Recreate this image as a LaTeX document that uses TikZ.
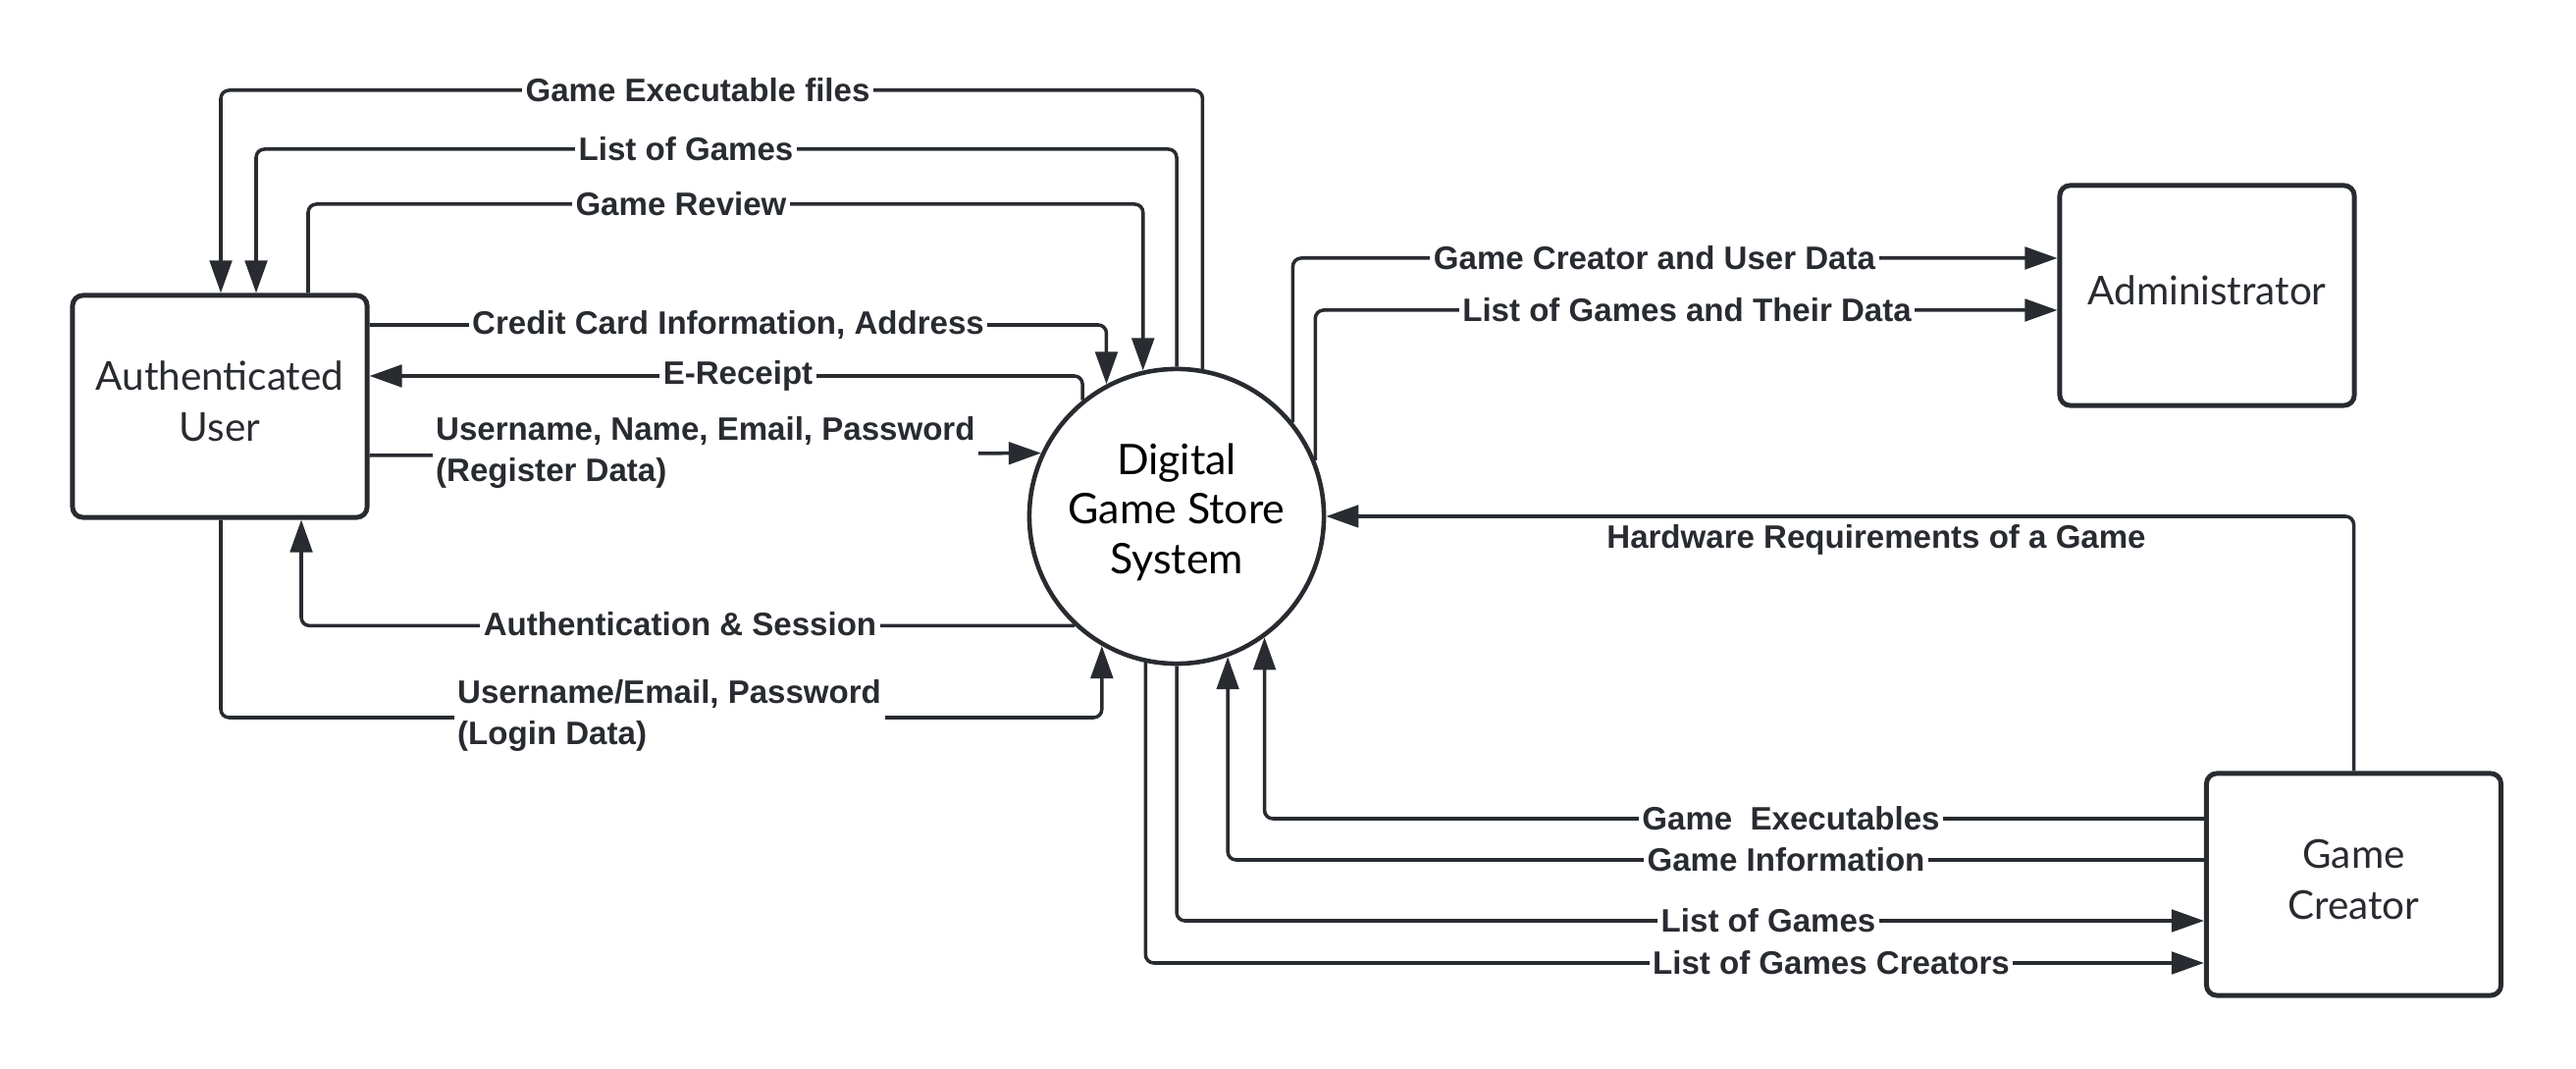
\documentclass[tikz,border=0pt]{standalone}
\usepackage{fontspec}
\setmainfont{Lato}
\newfontfamily\labfont{Liberation Sans}
\usetikzlibrary{arrows.meta}
\definecolor{ink}{RGB}{40,43,48}
\begin{document}
\begin{tikzpicture}[x=0.01cm,y=-0.01cm,
  ent/.style={draw=ink,line width=1.4pt,rounded corners=3pt,minimum width=3cm,minimum height=2.26cm,align=center,text=ink,text depth=3pt,font=\fontsize{11.5}{15}\selectfont},
  proc/.style={draw=ink,line width=1.3pt,circle,minimum size=3cm,inner sep=0pt,align=center,text=black,text depth=4.5pt,font=\fontsize{12.2}{14.3}\selectfont},
  flow/.style={draw=ink,line width=1pt,rounded corners=2.4pt,-{Triangle[length=9.4pt,width=6.4pt]}},
  lab/.style={fill=white,text=ink,font=\labfont\bfseries\fontsize{9.4}{11.8}\selectfont,inner xsep=1pt,inner ysep=0.5pt},
]
\useasboundingbox (0,0) rectangle (2625,1089);

% entities
\node[ent] (user) at (224,414) {Authenticated\\User};
\node[ent,minimum height=2.24cm] (admin) at (2249,301) {Administrator};
\node[ent] (creator) at (2398.5,901) {Game\\Creator};
\node[proc] (sys) at (1199,526) {Digital\\Game Store\\System};

% flows between user and system
\draw[flow] (sys.80.4) |- (225,92) -- (user.north -| 225,0);
\draw[flow] (sys.90) |- (261,152) -- (user.north -| 261,0);
\draw[flow] (user.north -| 314,0) |- (sys.103.9 |- 0,208) -- (sys.103.9);
\draw[flow] (user.east |- 0,331) -| (sys.118.3);
\draw[flow] (sys.129.3) |- (user.east |- 0,383);
\draw[flow] (user.east |- 0,464) -- (sys.155.6);
\draw[flow] (sys.227.2) -| (user.south -| 307,0);
\draw[flow] (user.south -| 225,0) |- (sys.240.5 |- 0,731) -- (sys.240.5);

% flows to administrator
\draw[flow] (sys.39.9) |- (admin.west |- 0,263);
\draw[flow] (sys.22) |- (admin.west |- 0,316);

% flows with game creator
\draw[flow] (creator.north) |- (sys.0);
\draw[flow] (creator.west |- 0,834) -| (sys.306.4);
\draw[flow] (creator.west |- 0,876) -| (sys.290.3);
\draw[flow] (sys.270) |- (creator.west |- 0,938);
\draw[flow] (sys.258) |- (creator.west |- 0,981);

% labels
\node[lab] (l1) at (711,92) {Game Executable files};
\node[lab] (l2) at (699,152) {List of Games};
\node[lab] (l3) at (694,208) {Game Review};
\node[lab] (l4) at (742,331) {Credit Card Information, Address};
\node[lab] (l5) at (752,383) {E-Receipt};
\node[lab,align=left,anchor=west] (l6) at (440,461) {Username, Name, Email, Password\\(Register Data)};
\node[lab] (l7) at (693,636) {Authentication \& Session};
\node[lab,align=left,anchor=west] (l8) at (462,729) {Username/Email, Password\\(Login Data)};
\node[lab] (l9) at (1686,263) {Game Creator and User Data};
\node[lab] (l10) at (1719,316) {List of Games and Their Data};
\node[lab,fill=none] (l11) at (1912,550) {Hardware Requirements of a Game};
\node[lab] (l12) at (1825,834) {Game\ \ Executables};
\node[lab] (l13) at (1820,876) {Game Information};
\node[lab] (l14) at (1802,938) {List of Games};
\node[lab] (l15) at (1866,981) {List of Games Creators};
\end{tikzpicture}
\end{document}
